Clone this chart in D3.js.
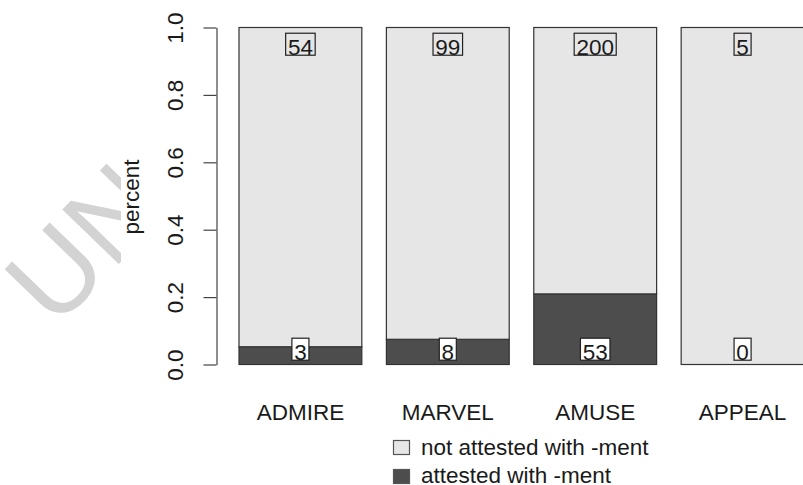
<!DOCTYPE html>
<html>
<head>
<meta charset="utf-8">
<script src="https://cdn.jsdelivr.net/npm/d3@7"></script>
<style>
  html, body { margin: 0; padding: 0; background: #fff; }
  svg text { font-family: "Liberation Sans", Arial, sans-serif; fill: #1a1a1a; }
</style>
</head>
<body>
<div id="chart-container"></div>
<script>
// verbs on the x axis
const verbs = ["ADMIRE", "MARVEL", "AMUSE", "APPEAL"];
// counts per verb
const attested = [3, 8, 53, 0];
const notAttested = [54, 99, 200, 5];
// y tick labels
const yTicks = [0, 0.2, 0.4, 0.6, 0.8, 1.0];
const seriesKeys = ["attested", "notAttested"];
const legendLabels = ["not attested with -ment", "attested with -ment"];

function drawChart() {
    const width = 803, height = 485;
    const fs = "22.5px";

    const svg = d3.select("#chart-container")
        .append("svg")
        .attr("width", width)
        .attr("height", height);

    // watermark, only the part left of the plot shows
    svg.append("clipPath").attr("id", "wm-clip")
        .append("rect").attr("x", 0).attr("y", 0).attr("width", 121).attr("height", height);
    svg.append("g")
        .attr("clip-path", "url(#wm-clip)")
        .append("text")
        .attr("transform", "translate(55,330) rotate(-46)")
        .style("font-size", "114px")
        .style("fill", "#d3d3d3")
        .text("UN");

    // table for the stack
    const rows = verbs.map((v, i) => ({ verb: v, attested: attested[i], notAttested: notAttested[i] }));

    const x = d3.scaleBand()
        .domain(verbs)
        .range([239, 804])
        .paddingInner(1 / 6)
        .paddingOuter(0);

    const y = d3.scaleLinear()
        .domain([0, 1])
        .range([364.5, 27.5]);

    const color = d3.scaleOrdinal()
        .domain(seriesKeys)
        .range(["#4d4d4d", "#e6e6e6"]);

    // proportions
    const stacked = d3.stack()
        .keys(seriesKeys)
        .offset(d3.stackOffsetExpand)(rows);

    // y axis
    const yAxis = svg.append("g")
        .attr("transform", "translate(216.5,0)")
        .call(d3.axisLeft(y).tickValues(yTicks).tickFormat(d3.format(".1f")).tickSize(13).tickSizeOuter(0));
    yAxis.select(".domain").attr("stroke", "#444").attr("stroke-width", 1.2);
    yAxis.selectAll(".tick line").attr("stroke", "#444").attr("stroke-width", 1.2);
    yAxis.selectAll(".tick text")
        .attr("x", null).attr("dy", null)
        .attr("text-anchor", "middle")
        .attr("fill", "#1a1a1a")
        .attr("transform", "translate(-33.5,0) rotate(-90)")
        .style("font-size", fs)
        .style("font-family", "'Liberation Sans', Arial, sans-serif");

    svg.append("text")
        .attr("transform", "translate(139,197) rotate(-90)")
        .attr("text-anchor", "middle")
        .style("font-size", fs)
        .text("percent");

    // bars
    svg.append("g")
        .selectAll("g")
        .data(stacked)
        .enter()
        .append("g")
        .attr("fill", d => color(d.key))
        .selectAll("rect")
        .data(d => d)
        .enter()
        .append("rect")
        .attr("x", d => x(d.data.verb))
        .attr("y", d => y(d[1]))
        .attr("width", x.bandwidth())
        .attr("height", d => y(d[0]) - y(d[1]))
        .attr("stroke", "#333")
        .attr("stroke-width", 1.2);

    // boxed count labels
    const labelPos = { attested: 0.035, notAttested: 0.94 };
    const labelFill = { attested: "#ffffff", notAttested: "#e6e6e6" };
    const labels = svg.append("g");
    stacked.forEach(s => {
        s.forEach(d => {
            const cx = x(d.data.verb) + x.bandwidth() / 2;
            const cy = y(labelPos[s.key]);
            const g = labels.append("g");
            const box = g.append("rect");
            const t = g.append("text")
                .attr("x", cx)
                .attr("y", cy + 7.5)
                .attr("text-anchor", "middle")
                .style("font-size", fs)
                .text(d.data[s.key]);
            const w = t.node().getComputedTextLength() + 4.5;
            box.attr("x", cx - w / 2)
                .attr("y", cy - 3.5 - 11)
                .attr("width", w)
                .attr("height", 22)
                .attr("fill", labelFill[s.key])
                .attr("stroke", "#222")
                .attr("stroke-width", 1.2);
        });
    });

    // x labels
    svg.append("g")
        .selectAll("text")
        .data(verbs)
        .enter()
        .append("text")
        .attr("x", d => x(d) + x.bandwidth() / 2)
        .attr("y", 420)
        .attr("text-anchor", "middle")
        .style("font-size", fs)
        .text(d => d);

    // legend
    const legendKeys = ["notAttested", "attested"];
    const legend = svg.append("g");
    legendKeys.forEach((k, i) => {
        legend.append("rect")
            .attr("x", 393.5)
            .attr("y", 440.5 + i * 29)
            .attr("width", 16)
            .attr("height", 14)
            .attr("fill", color(k))
            .attr("stroke", "#555")
            .attr("stroke-width", 1.2);
        legend.append("text")
            .attr("x", 421)
            .attr("y", 455 + i * 27.5)
            .style("font-size", fs)
            .text(legendLabels[i]);
    });
}

window.onload = () => {
    drawChart();
};
</script>
</body>
</html>
